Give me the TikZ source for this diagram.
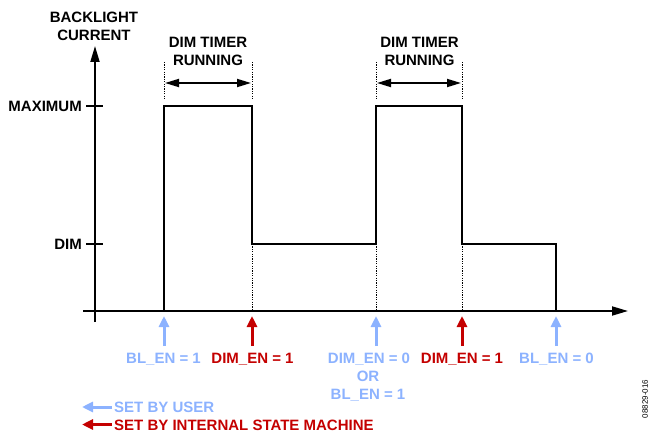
\documentclass[tikz,border=0pt]{standalone}
\usepackage{fontspec}
\setmainfont{Liberation Sans}
\usetikzlibrary{arrows.meta}
\definecolor{userblue}{RGB}{140,178,255}
\definecolor{smred}{RGB}{196,0,0}
\tikzset{
  lbl/.style={font=\fontsize{15}{17}\selectfont\bfseries, inner sep=0pt},
  axisline/.style={line width=1.8pt},
  wave/.style={line width=2.4pt, line join=miter},
  dotline/.style={line width=0.9pt, dash pattern=on 1.2pt off 1.2pt},
  userarrow/.style={userblue, line width=3pt, -{Triangle[width=10pt,length=11pt]}},
  smarrow/.style={smred, line width=3pt, -{Triangle[width=10pt,length=11pt]}},
  timerarrow/.style={line width=1.8pt, {Triangle[width=8pt,length=14pt]}-{Triangle[width=8pt,length=14pt]}},
}
\begin{document}
\begin{tikzpicture}[x=1pt,y=-1pt]
\useasboundingbox (0,0) rectangle (650,433);
% axes
\coordinate (yb) at (95,322);
\coordinate (yt) at (95,46);
\coordinate (xl) at (83,311);
\coordinate (xr) at (628,311);
\draw[axisline,-{Triangle[width=9pt,length=16pt]}] (yb) -- (yt);
\draw[axisline,-{Triangle[width=9pt,length=16pt]}] (xl) -- (xr);
% ticks
\coordinate (mt1) at (86,106); \coordinate (mt2) at (103,106);
\coordinate (dt1) at (86,244); \coordinate (dt2) at (103,244);
\draw[line width=1.2pt] (mt1) -- (mt2);
\draw[line width=1.2pt] (dt1) -- (dt2);
% axis labels
\node[lbl,anchor=base] (bl1) at (94,22.5) {BACKLIGHT};
\node[lbl,anchor=base] (bl2) at (94,40.5) {CURRENT};
\node[lbl,anchor=base east] (lmax) at (82,111.5) {MAXIMUM};
\node[lbl,anchor=base east] (ldim) at (82,249.5) {DIM};
% waveform
\coordinate (w0) at (164,311);
\coordinate (w1) at (164,106);
\coordinate (w2) at (252,106);
\coordinate (w3) at (252,244);
\coordinate (w4) at (376,244);
\coordinate (w5) at (376,106);
\coordinate (w6) at (462,106);
\coordinate (w7) at (462,244);
\coordinate (w8) at (556,244);
\coordinate (w9) at (556,311);
\draw[wave] (w0) -- (w1) -- (w2) -- (w3) -- (w4) -- (w5) -- (w6) -- (w7) -- (w8) -- (w9);
% dotted guide lines
\coordinate (a1t) at (164,62); \coordinate (a1b) at (164,100);
\coordinate (a2t) at (252,62); \coordinate (a2b) at (252,100);
\coordinate (a3t) at (376,62); \coordinate (a3b) at (376,100);
\coordinate (a4t) at (462,62); \coordinate (a4b) at (462,100);
\draw[dotline] (a1t) -- (a1b);
\draw[dotline] (a2t) -- (a2b);
\draw[dotline] (a3t) -- (a3b);
\draw[dotline] (a4t) -- (a4b);
\coordinate (b2) at (252,310); \coordinate (b3) at (376,310); \coordinate (b4) at (462,310);
\draw[dotline] (w3) -- (b2);
\draw[dotline] (w4) -- (b3);
\draw[dotline] (w7) -- (b4);
% timer arrows
\coordinate (t1l) at (165,83); \coordinate (t1r) at (251,83);
\coordinate (t2l) at (377,83); \coordinate (t2r) at (461,83);
\draw[timerarrow] (t1l) -- (t1r);
\draw[timerarrow] (t2l) -- (t2r);
\node[lbl,anchor=base] (dt1a) at (208,47.5) {DIM TIMER};
\node[lbl,anchor=base] (dt1b) at (208,65.5) {RUNNING};
\node[lbl,anchor=base] (dt2a) at (419.5,47.5) {DIM TIMER};
\node[lbl,anchor=base] (dt2b) at (419.5,65.5) {RUNNING};
% event arrows
\coordinate (e1b) at (164,346); \coordinate (e1t) at (164,316);
\coordinate (e2b) at (252,346); \coordinate (e2t) at (252,316);
\coordinate (e3b) at (376,346); \coordinate (e3t) at (376,316);
\coordinate (e4b) at (462,346); \coordinate (e4t) at (462,316);
\coordinate (e5b) at (556,346); \coordinate (e5t) at (556,316);
\draw[userarrow] (e1b) -- (e1t);
\draw[smarrow] (e2b) -- (e2t);
\draw[userarrow] (e3b) -- (e3t);
\draw[smarrow] (e4b) -- (e4t);
\draw[userarrow] (e5b) -- (e5t);
% event labels
\node[lbl,anchor=base,text=userblue] (l1) at (163.5,363.5) {BL\_EN = 1};
\node[lbl,anchor=base,text=smred] (l2) at (252.5,363.5) {DIM\_EN = 1};
\node[lbl,anchor=base,text=userblue] (l3a) at (369,363.5) {DIM\_EN = 0};
\node[lbl,anchor=base,text=userblue] (l3b) at (368,381.5) {OR};
\node[lbl,anchor=base,text=userblue] (l3c) at (368,399) {BL\_EN = 1};
\node[lbl,anchor=base,text=smred] (l4) at (462,363.5) {DIM\_EN = 1};
\node[lbl,anchor=base,text=userblue] (l5) at (556.5,363.5) {BL\_EN = 0};
% legend
\coordinate (g1r) at (112,407); \coordinate (g1l) at (82,407);
\coordinate (g2r) at (112,424.5); \coordinate (g2l) at (82,424.5);
\draw[userarrow] (g1r) -- (g1l);
\draw[smarrow] (g2r) -- (g2l);
\node[lbl,anchor=base west,text=userblue] (g1) at (114,412.5) {SET BY USER};
\node[lbl,anchor=base west,text=smred] (g2) at (114,430) {SET BY INTERNAL STATE MACHINE};
% figure id
\node[font=\fontsize{8}{9}\selectfont, inner sep=0pt, rotate=90] (fid) at (645,399) {08829-016};
\end{tikzpicture}
\end{document}
